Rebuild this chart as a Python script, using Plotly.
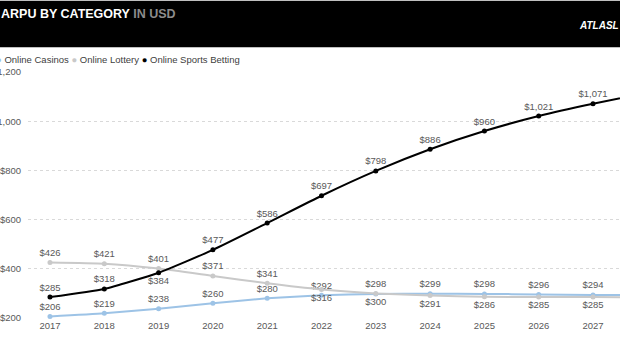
import plotly.graph_objects as go

years = [2017, 2018, 2019, 2020, 2021, 2022, 2023, 2024, 2025, 2026, 2027, 2028]
labelled_years = years[:-1]
year_labels = [str(y) for y in labelled_years]
casinos = [206, 219, 238, 260, 280, 292, 298, 299, 298, 296, 294, 292]
lottery = [426, 421, 401, 371, 341, 316, 300, 291, 286, 285, 285, 284]
sports = [285, 318, 384, 477, 586, 697, 798, 886, 960, 1021, 1071, 1115]
y_ticks = [200, 400, 600, 800, 1000, 1200]
y_tick_labels = ["$200", "$400", "$600", "$800", "$1,000", "$1,200"]

casino_pos = ["top center"] * len(years)
lottery_pos = ["top center"] * 5 + ["bottom center"] * 7
sports_pos = ["top center", "top center", "bottom center"] + ["top center"] * 9

W, H = 620, 350
L, R, T, B = 28, 0, 72, 32
pw, ph = W - L - R, H - T - B


def fmt(v):
    return "${:,}".format(v)


def px_x(px):
    return (px - L) / pw


def px_y(py):
    return (H - B - py) / ph


LABEL_FONT = dict(family="Liberation Sans, Arial, sans-serif", size=9.5, color="#595959")
YTICK_FONT = dict(family="Liberation Sans, Arial, sans-serif", size=9.5, color="#595959")

fig = go.Figure()
for name, vals, color, pos in [
    ("Online Casinos", casinos, "#9DC3E6", casino_pos),
    ("Online Lottery", lottery, "#C9C9C9", lottery_pos),
    ("Online Sports Betting", sports, "#000000", sports_pos),
]:
    fig.add_trace(go.Scatter(
        x=years, y=vals, name=name, mode="lines+markers+text",
        line=dict(color=color, width=2, shape="spline", smoothing=0.5),
        marker=dict(color=color, size=5),
        text=[fmt(v) if yr in labelled_years else "" for yr, v in zip(years, vals)],
        textposition=pos,
        textfont=LABEL_FONT, cliponaxis=False, showlegend=False,
    ))

fig.update_xaxes(
    range=[2016.595, 2027.497], tickvals=labelled_years, ticktext=year_labels,
    showgrid=False, zeroline=False, showline=False, automargin=False,
    tickfont=LABEL_FONT,
)
fig.update_yaxes(
    range=[200, 1200], tickvals=y_ticks, ticktext=y_tick_labels,
    showgrid=True, gridcolor="#D9D9D9", griddash="dot", gridwidth=1,
    zeroline=False, showline=False, tickfont=YTICK_FONT,
    ticks="outside", ticklen=4, tickcolor="rgba(0,0,0,0)",
    automargin=False,
)

# header bar
fig.add_shape(type="rect", xref="paper", yref="paper",
              x0=px_x(-5), x1=px_x(625), y0=px_y(47.5), y1=px_y(0.5),
              fillcolor="#000000", line=dict(color="#BFBFBF", width=1), layer="above")

fig.add_annotation(
    xref="paper", yref="paper", x=px_x(-1), y=px_y(14), xanchor="left", yanchor="middle",
    text="<b>ARPU BY CATEGORY <span style='color:#8C8C8C'>IN USD</span></b>",
    showarrow=False, font=dict(family="Liberation Sans, Arial, sans-serif", size=12.5, color="#FFFFFF"),
)
fig.add_annotation(
    xref="paper", yref="paper", x=px_x(577), y=px_y(26), xanchor="left", yanchor="middle",
    text="<b><i>ATLASL</i></b>",
    showarrow=False, font=dict(family="Liberation Sans, Arial, sans-serif", size=10, color="#FFFFFF"),
)

legend_text = ("<span style='color:#9DC3E6'>●</span> Online Casinos "
               "<span style='color:#C9C9C9'>●</span> Online Lottery "
               "<span style='color:#000000'>●</span> Online Sports Betting")
fig.add_annotation(
    xref="paper", yref="paper", x=px_x(-6), y=px_y(59), xanchor="left", yanchor="middle",
    text=legend_text, showarrow=False,
    font=dict(family="Liberation Sans, Arial, sans-serif", size=9.5, color="#404040"),
)

fig.update_layout(
    width=W, height=H, margin=dict(l=L, r=R, t=T, b=B, autoexpand=False),
    paper_bgcolor="#FFFFFF", plot_bgcolor="#FFFFFF",
    showlegend=False,
)

fig.write_html("out.html")
